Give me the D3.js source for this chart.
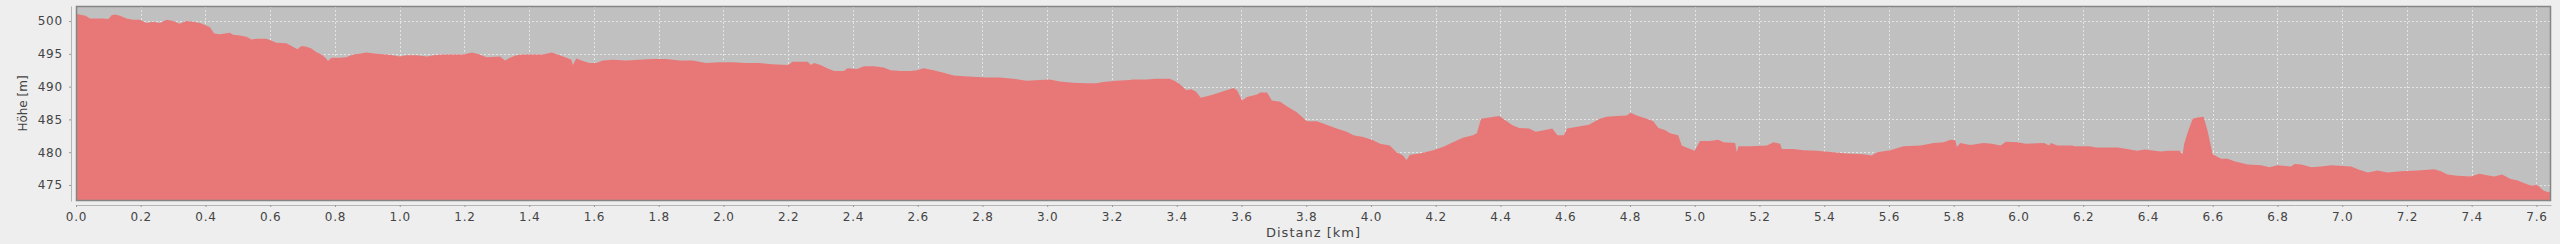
<!DOCTYPE html>
<html>
<head>
<meta charset="utf-8">
<script src="https://cdn.jsdelivr.net/npm/d3@7"></script>
<style>
  html, body { margin: 0; padding: 0; background: #eeeeee; }
  svg { display: block; }
  text { font-family: "DejaVu Sans", sans-serif; fill: #444; }
</style>
</head>
<body>
<svg id="chart"></svg>
<script>
var distKm = [
  0.0, 0.01, 0.03, 0.043, 0.064, 0.084, 0.1, 0.11, 0.12, 0.136, 0.156, 0.177, 0.197, 0.218, 0.239, 0.259, 0.28, 0.3, 0.32, 0.341,
  0.362, 0.383, 0.398, 0.413, 0.427, 0.444, 0.475, 0.485, 0.506, 0.526, 0.542, 0.557, 0.588, 0.604, 0.619, 0.65, 0.67, 0.684, 0.696, 0.712,
  0.727, 0.742, 0.758, 0.773, 0.778, 0.789, 0.814, 0.835, 0.856, 0.876, 0.897, 0.927, 0.958, 0.979, 1.0, 1.02, 1.053, 1.084, 1.105, 1.135,
  1.166, 1.197, 1.223, 1.247, 1.268, 1.31, 1.325, 1.34, 1.36, 1.38, 1.41, 1.443, 1.469, 1.494, 1.515, 1.53, 1.535, 1.545, 1.566, 1.586,
  1.607, 1.627, 1.658, 1.699, 1.74, 1.781, 1.823, 1.864, 1.905, 1.946, 1.987, 2.028, 2.07, 2.11, 2.15, 2.2, 2.213, 2.26, 2.27, 2.28,
  2.3, 2.32, 2.342, 2.372, 2.383, 2.413, 2.434, 2.465, 2.495, 2.516, 2.547, 2.577, 2.598, 2.618, 2.649, 2.68, 2.711, 2.742, 2.772, 2.813,
  2.854, 2.895, 2.936, 2.977, 3.008, 3.039, 3.08, 3.121, 3.152, 3.172, 3.213, 3.254, 3.265, 3.306, 3.337, 3.378, 3.393, 3.409, 3.429, 3.445,
  3.46, 3.474, 3.505, 3.525, 3.556, 3.576, 3.587, 3.602, 3.617, 3.648, 3.658, 3.679, 3.694, 3.72, 3.74, 3.771, 3.802, 3.833, 3.863, 3.894,
  3.925, 3.946, 3.976, 4.007, 4.028, 4.058, 4.079, 4.099, 4.11, 4.12, 4.151, 4.192, 4.222, 4.253, 4.284, 4.315, 4.327, 4.34, 4.365, 4.396,
  4.417, 4.437, 4.458, 4.489, 4.509, 4.53, 4.56, 4.576, 4.596, 4.606, 4.642, 4.673, 4.707, 4.728, 4.759, 4.79, 4.802, 4.821, 4.852, 4.872,
  4.888, 4.908, 4.924, 4.949, 4.96, 4.986, 5.0, 5.016, 5.047, 5.073, 5.089, 5.125, 5.13, 5.135, 5.172, 5.223, 5.243, 5.264, 5.269, 5.305,
  5.336, 5.377, 5.429, 5.47, 5.522, 5.547, 5.563, 5.604, 5.645, 5.697, 5.738, 5.769, 5.79, 5.805, 5.81, 5.82, 5.851, 5.892, 5.918, 5.945,
  5.961, 5.997, 6.023, 6.079, 6.095, 6.1, 6.12, 6.167, 6.172, 6.22, 6.24, 6.306, 6.336, 6.366, 6.39, 6.44, 6.46, 6.497, 6.507, 6.512,
  6.522, 6.538, 6.553, 6.572, 6.584, 6.6, 6.626, 6.646, 6.667, 6.708, 6.75, 6.775, 6.8, 6.842, 6.853, 6.874, 6.905, 6.935, 6.966, 7.028,
  7.048, 7.079, 7.11, 7.14, 7.18, 7.233, 7.284, 7.305, 7.325, 7.356, 7.397, 7.423, 7.469, 7.494, 7.52, 7.54, 7.561, 7.582, 7.602, 7.623,
  7.638, 7.645
];
var heightM = [
  501.1, 501.0, 500.8, 500.4, 500.4, 500.4, 500.3, 500.9, 501.0, 500.8, 500.4, 500.2, 500.2, 499.7, 499.9, 499.7, 500.2, 500.0, 499.6, 500.0,
  499.9, 499.7, 499.4, 499.1, 498.1, 498.0, 498.2, 497.9, 497.8, 497.6, 497.2, 497.3, 497.3, 497.0, 496.7, 496.6, 496.1, 495.7, 496.2, 496.1,
  495.8, 495.3, 494.9, 494.3, 493.9, 494.4, 494.4, 494.5, 494.9, 495.0, 495.2, 495.0, 494.9, 494.8, 494.6, 494.8, 494.8, 494.6, 494.8, 494.9,
  494.9, 494.9, 495.2, 494.9, 494.5, 494.6, 494.0, 494.4, 494.8, 494.9, 494.9, 494.9, 495.2, 494.8, 494.4, 494.1, 493.3, 494.3, 493.9, 493.6,
  493.6, 494.0, 494.1, 494.0, 494.1, 494.2, 494.2, 494.0, 494.0, 493.6, 493.7, 493.7, 493.6, 493.6, 493.4, 493.3, 493.8, 493.8, 493.3, 493.6,
  493.3, 492.8, 492.4, 492.4, 492.8, 492.7, 493.1, 493.1, 492.9, 492.5, 492.4, 492.4, 492.5, 492.8, 492.5, 492.1, 491.7, 491.6, 491.5, 491.4,
  491.4, 491.2, 490.9, 491.0, 491.1, 490.8, 490.6, 490.5, 490.5, 490.7, 490.9, 491.0, 491.1, 491.1, 491.2, 491.2, 490.9, 490.4, 489.5, 489.6,
  489.2, 488.3, 488.7, 489.0, 489.5, 489.8, 489.4, 487.9, 488.4, 488.8, 489.1, 489.1, 487.9, 487.7, 487.0, 486.1, 484.7, 484.7, 484.2, 483.6,
  483.1, 482.6, 482.3, 481.8, 481.3, 481.0, 480.0, 479.5, 478.8, 479.6, 479.8, 480.3, 480.8, 481.5, 482.2, 482.6, 482.9, 485.1, 485.3, 485.5,
  484.8, 484.1, 483.7, 483.6, 483.1, 483.3, 483.6, 482.6, 482.6, 483.6, 483.9, 484.2, 485.1, 485.4, 485.5, 485.6, 486.0, 485.6, 485.1, 484.7,
  483.7, 483.4, 482.9, 482.6, 481.0, 480.5, 480.2, 481.7, 481.7, 481.9, 481.5, 481.4, 480.0, 480.9, 480.9, 481.0, 481.5, 481.3, 480.5, 480.5,
  480.3, 480.2, 480.0, 479.8, 479.7, 479.5, 480.0, 480.3, 480.9, 481.0, 481.4, 481.5, 481.9, 481.8, 480.8, 481.4, 481.1, 481.4, 481.3, 481.0,
  481.6, 481.5, 481.3, 481.4, 481.0, 481.4, 481.0, 481.0, 480.9, 480.9, 480.7, 480.7, 480.5, 480.2, 480.4, 480.1, 480.2, 480.2, 479.7, 481.3,
  482.9, 485.1, 485.3, 485.4, 483.3, 479.7, 479.0, 479.0, 478.6, 478.1, 478.0, 477.7, 478.0, 477.8, 478.2, 478.1, 477.7, 477.8, 478.0, 477.8,
  477.4, 476.9, 477.2, 476.9, 477.1, 477.2, 477.4, 477.1, 476.6, 476.4, 476.3, 476.7, 476.3, 476.6, 475.9, 475.7, 475.3, 474.9, 475.0, 474.1,
  473.9, 474.1
];
var xTicks = [0.0, 0.2, 0.4, 0.6, 0.8, 1.0, 1.2, 1.4, 1.6, 1.8, 2.0, 2.2, 2.4, 2.6, 2.8, 3.0, 3.2, 3.4, 3.6, 3.8,
  4.0, 4.2, 4.4, 4.6, 4.8, 5.0, 5.2, 5.4, 5.6, 5.8, 6.0, 6.2, 6.4, 6.6, 6.8, 7.0, 7.2, 7.4, 7.6];
var yTicks = [475, 480, 485, 490, 495, 500];
var xLabel = "Distanz [km]";
var yLabel = "Höhe [m]";

var w = 2560;
var h = 244;
var plot = { left: 76, right: 2551, top: 6, bottom: 201 };

var data = distKm.map(function(d, i) { return { km: d, m: heightM[i] }; });

var svg = d3.select("#chart")
  .attr("width", w)
  .attr("height", h);

var xScale = d3.scaleLinear()
  .domain([0, 7.645])
  .range([plot.left, plot.right]);

var yScale = d3.scaleLinear()
  .domain([472.55, 502.3])
  .range([plot.bottom, plot.top]);

// plot background
svg.append("rect")
  .attr("x", plot.left)
  .attr("y", plot.top)
  .attr("width", plot.right - plot.left)
  .attr("height", plot.bottom - plot.top)
  .attr("fill", "#c0c0c0");

// grid
svg.append("g")
  .selectAll("line")
  .data(xTicks)
  .enter().append("line")
  .attr("x1", function(d) { return Math.round(xScale(d)) + 0.5; })
  .attr("x2", function(d) { return Math.round(xScale(d)) + 0.5; })
  .attr("y1", plot.top)
  .attr("y2", plot.bottom)
  .attr("stroke", "#e4e4e4")
  .attr("stroke-dasharray", "2,2");

svg.append("g")
  .selectAll("line")
  .data(yTicks)
  .enter().append("line")
  .attr("x1", plot.left)
  .attr("x2", plot.right)
  .attr("y1", function(d) { return Math.round(yScale(d)) + 0.5; })
  .attr("y2", function(d) { return Math.round(yScale(d)) + 0.5; })
  .attr("stroke", "#e4e4e4")
  .attr("stroke-dasharray", "2,2");

// elevation area
var area = d3.area()
  .x(function(d) { return xScale(d.km); })
  .y0(plot.bottom)
  .y1(function(d) { return yScale(d.m); });

svg.append("path")
  .datum(data)
  .attr("d", area)
  .attr("fill", "#e87878");

// plot border
svg.append("rect")
  .attr("x", plot.left + 0.5)
  .attr("y", plot.top + 0.5)
  .attr("width", plot.right - plot.left - 1)
  .attr("height", plot.bottom - plot.top - 1)
  .attr("fill", "none")
  .attr("stroke", "#858585")
  .attr("stroke-width", 1.5);

// axes
var xAxis = d3.axisBottom(xScale)
  .tickValues(xTicks)
  .tickFormat(d3.format(".1f"))
  .tickSizeInner(2)
  .tickSizeOuter(0)
  .tickPadding(5);

var yAxis = d3.axisLeft(yScale)
  .tickValues(yTicks)
  .tickFormat(d3.format("d"))
  .tickSizeInner(2)
  .tickSizeOuter(0)
  .tickPadding(6);

var gx = svg.append("g")
  .attr("transform", "translate(0," + 205 + ")")
  .call(xAxis);

var gy = svg.append("g")
  .attr("transform", "translate(" + 71 + ",0)")
  .call(yAxis);

[gx, gy].forEach(function(g) {
  g.select(".domain").attr("stroke", "#b4b4b4");
  g.selectAll(".tick line").attr("stroke", "#9a9a9a");
  g.selectAll(".tick text")
    .attr("fill", "#444")
    .style("font-family", "'DejaVu Sans', sans-serif")
    .style("font-size", "12px")
    .style("letter-spacing", "0.8px");
});

svg.append("text")
  .attr("x", (plot.left + plot.right) / 2)
  .attr("y", 237)
  .attr("text-anchor", "middle")
  .style("font-size", "13px")
  .style("letter-spacing", "1px")
  .text(xLabel);

svg.append("text")
  .attr("transform", "translate(27," + ((plot.top + plot.bottom) / 2) + ") rotate(-90)")
  .attr("text-anchor", "middle")
  .style("font-size", "12px")
  .text(yLabel);
</script>
</body>
</html>
